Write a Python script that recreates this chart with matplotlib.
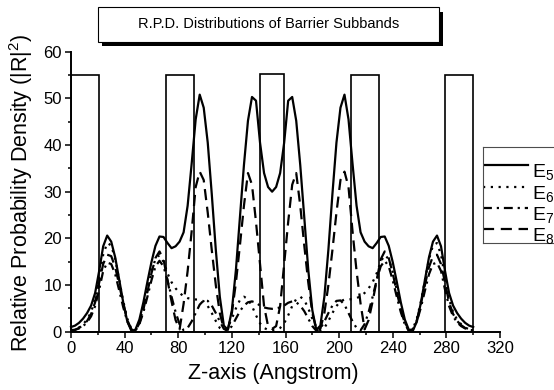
import numpy as np
import matplotlib
matplotlib.use('Agg')
import matplotlib.pyplot as plt
from matplotlib.patches import Rectangle
from matplotlib.ticker import MultipleLocator

plt.rcParams['font.family'] = ['Liberation Sans', 'DejaVu Sans']
plt.rcParams['mathtext.fontset'] = 'custom'
plt.rcParams['mathtext.rm'] = 'Liberation Sans'
plt.rcParams['mathtext.it'] = 'Liberation Sans:italic'

W, H = 554, 390  # figure size in pixels

# sample positions along the growth axis (Angstrom)
z = np.arange(0, 301, 3)

# relative probability density, one value per z sample
e5 = [1.0, 1.3, 1.9, 2.8, 4.0, 5.6, 8.3, 13.0, 18.3, 20.6, 19.3, 15.9, 11.1, 6.2, 2.2, 0.2, 0.4,
      2.6, 6.3, 10.7, 14.9, 18.4, 20.4, 20.3, 19.0, 17.9, 18.3, 19.3, 21.3, 27.0, 36.0, 45.5, 50.8,
      48.0, 40.5, 29.5, 17.6, 7.5, 1.3, 0.4, 4.6, 13.2, 24.5, 35.7, 45.2, 50.3, 49.5, 40.5, 34.0,
      31.0, 30.0,
      31.0, 34.0, 40.5, 49.5, 50.3, 45.2, 35.7, 24.5, 13.2, 4.6, 0.4, 1.3, 7.5, 17.6, 29.5, 40.5,
      48.0, 50.8, 45.5, 36.0, 27.0, 21.3, 19.3, 18.3, 17.9, 19.0, 20.3, 20.4, 18.4, 14.9, 10.7, 6.3,
      2.6, 0.4, 0.2, 2.2, 6.2, 11.1, 15.9, 19.3, 20.6, 18.3, 13.0, 8.3, 5.6, 4.0, 2.8, 1.9, 1.3, 1.0]
e6 = [0.3, 0.5, 0.9, 1.6, 2.6, 4.2, 7.0, 11.5, 16.5, 19.0, 18.5, 15.5, 11.0, 6.5, 2.8, 0.6, 0.3,
      2.0, 5.2, 9.0, 12.8, 15.6, 16.4, 15.0, 12.5, 10.6, 9.3, 8.3, 7.6, 7.2, 7.0, 6.9, 6.9,
      6.5, 5.5, 4.0, 2.3, 0.8, 0.2, 1.0, 2.8, 5.0, 6.8, 7.5, 7.0, 5.5, 3.5, 1.8, 0.8,
      0.4, 0.3,
      0.4, 0.8, 1.8, 3.5, 5.5, 7.0, 7.5, 6.8, 5.0, 2.8, 1.0, 0.2, 0.8, 2.3, 4.0, 5.5,
      6.5, 6.9, 6.9, 7.0, 7.2, 7.6, 8.3, 9.3, 10.6, 12.5, 15.0, 16.4, 15.6, 12.8, 9.0, 5.2,
      2.0, 0.3, 0.6, 2.8, 6.5, 11.0, 15.5, 18.5, 19.0, 16.5, 11.5, 7.0, 4.2, 2.6, 1.6, 0.9, 0.5, 0.3]
e7 = [0.3, 0.4, 0.7, 1.2, 2.0, 3.3, 5.5, 9.0, 13.0, 14.8, 14.5, 12.3, 8.8, 5.2, 2.2, 0.5, 0.2,
      1.6, 4.2, 7.5, 11.0, 14.0, 15.2, 14.0, 11.0, 7.5, 4.2, 1.6, 0.3, 0.8, 2.2, 4.0, 5.8,
      6.7, 6.6, 5.6, 4.0, 2.2, 0.6, 0.2, 1.2, 2.8, 4.4, 5.6, 6.3, 6.5, 6.2, 5.6, 5.2,
      5.0, 4.9,
      5.0, 5.2, 5.6, 6.2, 6.5, 6.3, 5.6, 4.4, 2.8, 1.2, 0.2, 0.6, 2.2, 4.0, 5.6, 6.6,
      6.7, 5.8, 4.0, 2.2, 0.8, 0.3, 1.6, 4.2, 7.5, 11.0, 14.0, 15.2, 14.0, 11.0, 7.5, 4.2,
      1.6, 0.2, 0.5, 2.2, 5.2, 8.8, 12.3, 14.5, 14.8, 13.0, 9.0, 5.5, 3.3, 2.0, 1.2, 0.7, 0.4, 0.3]
e8 = [0.3, 0.4, 0.8, 1.4, 2.3, 3.8, 6.3, 10.5, 14.5, 16.5, 16.2, 13.8, 10.0, 6.0, 2.5, 0.5, 0.2,
      1.8, 4.8, 8.5, 12.5, 15.8, 17.2, 15.5, 11.0, 6.5, 2.5, 0.5, 6.0, 13.0, 21.5, 31.0, 34.3,
      32.5, 25.5, 17.5, 10.0, 4.0, 0.6, 0.5, 4.0, 10.5, 18.5, 27.0, 34.0, 31.5, 23.5, 14.5, 5.5,
      1.2, 0.6,
      1.2, 5.5, 14.5, 23.5, 31.5, 34.0, 27.0, 18.5, 10.5, 4.0, 0.5, 0.6, 4.0, 10.0, 17.5, 25.5,
      32.5, 34.3, 31.0, 21.5, 13.0, 6.0, 0.5, 2.5, 6.5, 11.0, 15.5, 17.2, 15.8, 12.5, 8.5, 4.8,
      1.8, 0.2, 0.5, 2.5, 6.0, 10.0, 13.8, 16.2, 16.5, 14.5, 10.5, 6.3, 3.8, 2.3, 1.4, 0.8, 0.4, 0.3]

series = [e5, e6, e7, e8]
labels = ['E$_5$', 'E$_6$', 'E$_7$', 'E$_8$']
styles = ['-', (0, (1, 2.5)), (0, (4, 2.2, 1, 2.2)), (0, (5, 3))]

# barrier layers (Angstrom) drawn as open rectangles
barrier_left = [0, 71, 141, 209, 279]
barrier_right = [21, 92, 159, 230, 300]
barrier_top = [55, 55, 55.3, 55, 55]


def px(x0, y0, x1, y1):
    """pixel box (top-left origin) -> figure fraction [l, b, w, h]"""
    return [x0 / W, 1 - y1 / H, (x1 - x0) / W, (y1 - y0) / H]


fig = plt.figure(figsize=(W / 100, H / 100), dpi=100)
ax = fig.add_axes(px(71, 51.7, 500, 331.7))

for l, r, t in zip(barrier_left, barrier_right, barrier_top):
    ax.add_patch(Rectangle((l, 0), r - l, t, fill=False, ec='k', lw=1.2))

for y, ls in zip(series, styles):
    ax.plot(z, y, color='k', lw=1.6, ls=ls, clip_on=False)

ax.set_xlim(0, 320)
ax.set_ylim(0, 60)
ax.xaxis.set_major_locator(MultipleLocator(40))
ax.xaxis.set_minor_locator(MultipleLocator(20))
ax.yaxis.set_major_locator(MultipleLocator(10))
ax.yaxis.set_minor_locator(MultipleLocator(5))
for s in ['top', 'right']:
    ax.spines[s].set_visible(False)
for s in ['left', 'bottom']:
    ax.spines[s].set_linewidth(1.4)
ax.tick_params(which='major', direction='out', length=4.5, width=1.1, labelsize=12, pad=2)
ax.tick_params(which='minor', direction='out', length=2.5, width=1.1)

ax.set_xlabel('Z-axis (Angstrom)', fontsize=15.5)
ax.xaxis.set_label_coords((273 - 71) / 429, -0.112)
ax.set_ylabel('Relative Probability Density (|R|$^2$)', fontsize=15.5)
ax.yaxis.set_label_coords(-0.085, 0.495)

# title box with drop shadow
fig.add_artist(Rectangle(px(101.7, 11.7, 443.3, 45.7)[:2], 341.6 / W, 34 / H,
                         transform=fig.transFigure, fc='k', ec='none'))
fig.add_artist(Rectangle(px(97.7, 7.3, 439, 41.7)[:2], 341.3 / W, 34.4 / H,
                         transform=fig.transFigure, fc='white', ec='k', lw=0.8))
fig.text(268.5 / W, 1 - 24.5 / H, 'R.P.D. Distributions of Barrier Subbands',
         ha='center', va='center', fontsize=10.5)

# legend box on the right, partly cut by the figure edge
lax = fig.add_axes(px(483.3, 146.7, 560, 243.3))
lax.set_xlim(0, 76.7)
lax.set_ylim(96.6, 0)
lax.set_xticks([])
lax.set_yticks([])
for s in lax.spines.values():
    s.set_linewidth(0.8)
    s.set_edgecolor('0.3')
row_y = [18.3, 40.6, 61.6, 82.6]
for yy, ls, lab in zip(row_y, styles, labels):
    lax.plot([0, 45], [yy, yy], color='k', lw=1.6, ls=ls)
    lax.text(48.5, yy + 12, lab, fontsize=14, va='baseline', ha='left')

fig.savefig('out.png', dpi=100)
